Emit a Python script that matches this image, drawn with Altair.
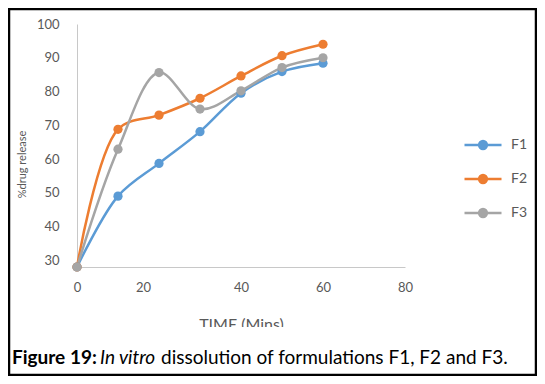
import altair as alt
import pandas as pd

times = [0, 10, 20, 30, 40, 50, 60]
f1 = [28, 49.0, 58.7, 68.1, 79.5, 85.9, 88.4]
f2 = [28, 68.8, 73.0, 78.0, 84.6, 90.6, 94.0]
f3 = [28, 62.9, 85.6, 74.8, 80.2, 87.1, 90.0]
series = ["F1", "F2", "F3"]
colors = ["#5B9BD5", "#ED7D31", "#A5A5A5"]
x_ticks = [0, 20, 40, 60, 80]
y_ticks = [30, 40, 50, 60, 70, 80, 90, 100]
caption_parts = ["Figure 19:", "In vitro", "dissolution of formulations F1, F2 and F3."]

rows = []
for name, vals in zip(series, [f1, f2, f3]):
    for t, v in zip(times, vals):
        rows.append({"time": t, "release": v, "series": name})
df = pd.DataFrame(rows)

FONT = "Lato"
GREY = "#595959"

legend_path = (
    "M-3.7,0L3.7,0 "
    "M-0.78,0a0.78,0.78 0 1,0 1.56,0a0.78,0.78 0 1,0 -1.56,0 "
    "M-0.32,0a0.32,0.32 0 1,0 0.64,0a0.32,0.32 0 1,0 -0.64,0 "
    "M-0.06,0a0.06,0.06 0 1,0 0.12,0a0.06,0.06 0 1,0 -0.12,0"
)

x_enc = alt.X(
    "time:Q",
    scale=alt.Scale(domain=[0, 80], nice=False),
    axis=alt.Axis(
        values=x_ticks, title="TIME (Mins)", labelPadding=14, labelFlush=False,
        labelOffset={"condition": {"test": "datum.value == 20", "value": -16}, "value": 0},
        titleY=62, titleBaseline="alphabetic", titleFontSize=16,
    ),
)
y_enc = alt.Y(
    "release:Q",
    scale=alt.Scale(domain=[28, 100], nice=False, zero=False),
    axis=alt.Axis(
        values=y_ticks, title="%drug release", labelPadding=18,
        titleX=-55, titleY=140, titleAngle=270, titleAlign="center",
        titleBaseline="middle", titleFontSize=11,
    ),
)
color_enc = alt.Color(
    "series:N",
    scale=alt.Scale(domain=series, range=colors),
    legend=alt.Legend(
        title=None, orient="none", legendX=399, legendY=114,
        symbolType=legend_path, symbolSize=100, symbolStrokeWidth=2.5,
        labelFont=FONT, labelFontSize=14, labelColor=GREY,
        labelOffset=21, rowPadding=16, padding=0,
    ),
)

base = alt.Chart(df).encode(x=x_enc, y=y_enc, color=color_enc)
lines = base.mark_line(interpolate="catmull-rom", strokeWidth=2.5)
points = base.mark_point(filled=True, size=85, opacity=1)

one = pd.DataFrame({"k": [0]})
cover = alt.Chart(one).mark_rect(color="white").encode(
    x=alt.value(-60), x2=alt.value(455), y=alt.value(303), y2=alt.value(322)
)
cap1 = alt.Chart(pd.DataFrame({"t": [caption_parts[0]]})).mark_text(
    font=FONT, fontSize=19, fontWeight="bold", color="black", align="left", baseline="alphabetic"
).encode(text="t:N", x=alt.value(-65), y=alt.value(340))
cap2 = alt.Chart(pd.DataFrame({"t": [caption_parts[1]]})).mark_text(
    font=FONT, fontSize=19, fontStyle="italic", color="black", align="left", baseline="alphabetic"
).encode(text="t:N", x=alt.value(23), y=alt.value(340))
cap3 = alt.Chart(pd.DataFrame({"t": [caption_parts[2]]})).mark_text(
    font=FONT, fontSize=19, color="black", align="left", baseline="alphabetic"
).encode(text="t:N", x=alt.value(84), y=alt.value(340))
border = alt.Chart(one).mark_rect(filled=False, stroke="black", strokeWidth=2.5).encode(
    x=alt.value(-68), x2=alt.value(459), y=alt.value(-15), y2=alt.value(351)
)

chart = alt.layer(lines, points, cover, cap1, cap2, cap3, border).properties(
    width=328, height=243,
    autosize=alt.AutoSizeParams(type="none"),
    padding={"left": 69, "top": 16, "right": 132, "bottom": 109},
).configure_view(stroke=None).configure_axis(
    domainColor="#c8c8c8", domainWidth=1, ticks=False, tickSize=0, grid=False,
    labelFont=FONT, labelFontSize=13, labelColor=GREY,
    titleFont=FONT, titleColor=GREY, titleFontWeight="normal",
)

chart.save("out.html", embed_options={"renderer": "svg", "actions": False})
